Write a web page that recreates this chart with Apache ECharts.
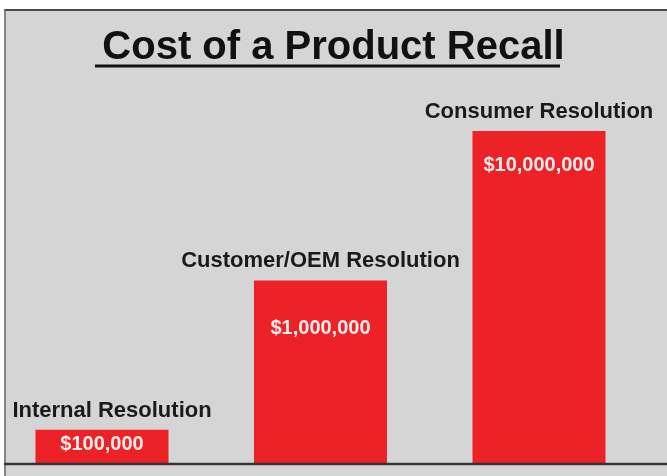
<!DOCTYPE html>
<html>
<head>
<meta charset="utf-8">
<script src="https://cdn.jsdelivr.net/npm/echarts@6/dist/echarts.min.js"></script>
<style>
  html, body { margin: 0; padding: 0; background: #fff; }
  #chart { width: 667px; height: 476px; }
</style>
</head>
<body>
<div id="chart"></div>
<script>
var categories = ['Internal Resolution', 'Customer/OEM Resolution', 'Consumer Resolution'];
var costs = [100000, 1000000, 10000000];

var chart = echarts.init(document.getElementById('chart'));

var fontFamily = '"Liberation Sans", Arial, sans-serif';
var red = '#ec2227';
// gap from bar top to the white value text, per bar
var valueGap = [5, 38, 24];
// sideways nudge of the name above each bar
var nameShift = [10, 0, 0];

function money(v) {
    return '$' + v.toString().replace(/\B(?=(\d{3})+(?!\d))/g, ',');
}

var option = {
    backgroundColor: '#ffffff',
    animation: false,
    title: {
        text: 'Cost of a Product Recall',
        left: 'center',
        top: 23,
        textStyle: {
            color: '#111',
            fontSize: 40,
            fontWeight: 'bold',
            fontFamily: fontFamily
        }
    },
    graphic: [
        { type: 'rect', z: -10, shape: { x: 4, y: 9, width: 663, height: 467 }, style: { fill: '#d5d5d5' } },
        { type: 'line', z: 100, shape: { x1: 4, y1: 10, x2: 667, y2: 10 }, style: { stroke: '#4a4a4a', lineWidth: 2 } },
        { type: 'line', z: 100, shape: { x1: 5, y1: 9, x2: 5, y2: 476 }, style: { stroke: '#6a6a6a', lineWidth: 1.5 } },
        { type: 'line', z: 100, shape: { x1: 4, y1: 464, x2: 667, y2: 464 }, style: { stroke: '#333', lineWidth: 2.5 } },
        { type: 'line', z: 100, shape: { x1: 95, y1: 66, x2: 560, y2: 66 }, style: { stroke: '#111', lineWidth: 3 } }
    ],
    grid: {
        left: 102,
        right: 128,
        top: 131,
        bottom: 13
    },
    xAxis: {
        type: 'category',
        data: categories,
        boundaryGap: false,
        axisLine: { show: false },
        axisTick: { show: false },
        axisLabel: { show: false }
    },
    yAxis: {
        type: 'log',
        min: 60000,
        max: 10000000,
        startValue: 60000,
        splitLine: { show: false },
        axisLine: { show: false },
        axisTick: { show: false },
        axisLabel: { show: false }
    },
    series: [
        {
            type: 'bar',
            barWidth: 133,
            clip: true,
            itemStyle: { color: red },
            data: costs.map(function (v, i) {
                return {
                    value: v,
                    label: { position: 'insideTop', distance: valueGap[i] }
                };
            }),
            label: {
                show: true,
                color: '#fdeeee',
                fontSize: 20,
                fontWeight: 'bold',
                fontFamily: fontFamily,
                formatter: function (p) { return money(p.value); }
            }
        },
        {
            // transparent copy, only carries the category name above each bar
            type: 'bar',
            barWidth: 133,
            barGap: '-100%',
            clip: true,
            silent: true,
            itemStyle: { color: 'rgba(0,0,0,0)' },
            data: costs.map(function (v, i) {
                return { value: v, label: { offset: [nameShift[i], 0] } };
            }),
            label: {
                show: true,
                position: 'top',
                distance: 8,
                color: '#1a1a1a',
                fontSize: 22,
                fontWeight: 'bold',
                fontFamily: fontFamily,
                formatter: function (p) { return p.name; }
            }
        }
    ]
};

chart.setOption(option);
</script>
</body>
</html>
